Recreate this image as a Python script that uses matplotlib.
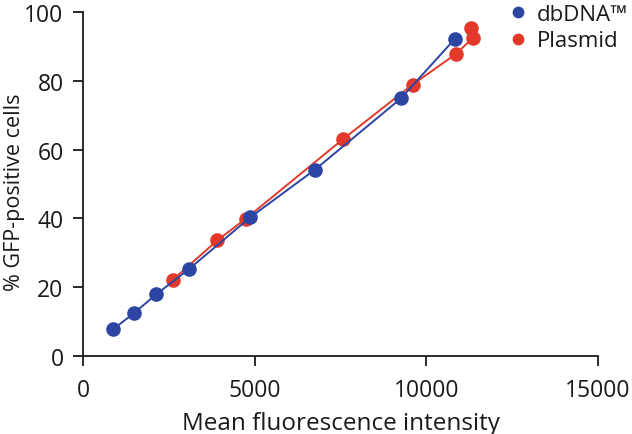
import matplotlib.pyplot as plt
from matplotlib.lines import Line2D

plt.rcParams['font.family'] = ['Open Sans', 'DejaVu Sans']

# data
dbdna_mfi = [880, 1490, 2130, 3090, 4870, 6760, 9260, 10830]
dbdna_gfp = [7.8, 12.5, 17.9, 25.3, 40.3, 54.2, 74.9, 92.2]
plasmid_mfi = [2610, 3910, 4740, 7580, 9600, 10860, 11370, 11290]
plasmid_gfp = [22.1, 33.6, 39.9, 63.1, 78.9, 87.8, 92.6, 95.3]

x_ticks = [0, 5000, 10000, 15000]
y_ticks = [0, 20, 40, 60, 80, 100]

blue = '#2c45a3'
red = '#e2392b'
ink = '#1a1a1a'

fig = plt.figure(figsize=(6.32, 4.35), dpi=100)
ax = fig.add_axes([0.1313, 0.1793, 0.8149, 0.7907])

ax.plot(plasmid_mfi, plasmid_gfp, color=red, lw=1.4, marker='o', ms=10.5,
        mec='none', zorder=2)
ax.plot(dbdna_mfi, dbdna_gfp, color=blue, lw=1.4, marker='o', ms=10.5,
        mec='none', zorder=3)

ax.set_xlim(0, 15000)
ax.set_ylim(0, 100)
ax.set_xticks(x_ticks)
ax.set_yticks(y_ticks)
for s in ['top', 'right']:
    ax.spines[s].set_visible(False)
for s in ['left', 'bottom']:
    ax.spines[s].set_linewidth(1.3)
    ax.spines[s].set_color(ink)
ax.tick_params(direction='out', length=7, width=1.3, labelsize=16.5,
               colors=ink, pad=7)
ax.tick_params(axis='x', pad=9)
ax.set_xlabel('Mean fluorescence intensity', fontsize=17.5, color=ink, labelpad=6.5)
ax.set_ylabel('% GFP-positive cells', fontsize=15.5, color=ink)
ax.yaxis.set_label_coords(-0.113, 0.48)

handles = [Line2D([], [], ls='none', marker='o', ms=8.5, color=blue, mec='none'),
           Line2D([], [], ls='none', marker='o', ms=8.5, color=red, mec='none')]
fig.legend(handles, ['dbDNA™', 'Plasmid'], loc='upper left',
           bbox_to_anchor=(0.805, 0.989), frameon=False, fontsize=16,
           handlelength=0.8, handletextpad=0.45, labelspacing=0.25,
           borderpad=0, borderaxespad=0, labelcolor=ink)

fig.savefig('out.png', dpi=100)
